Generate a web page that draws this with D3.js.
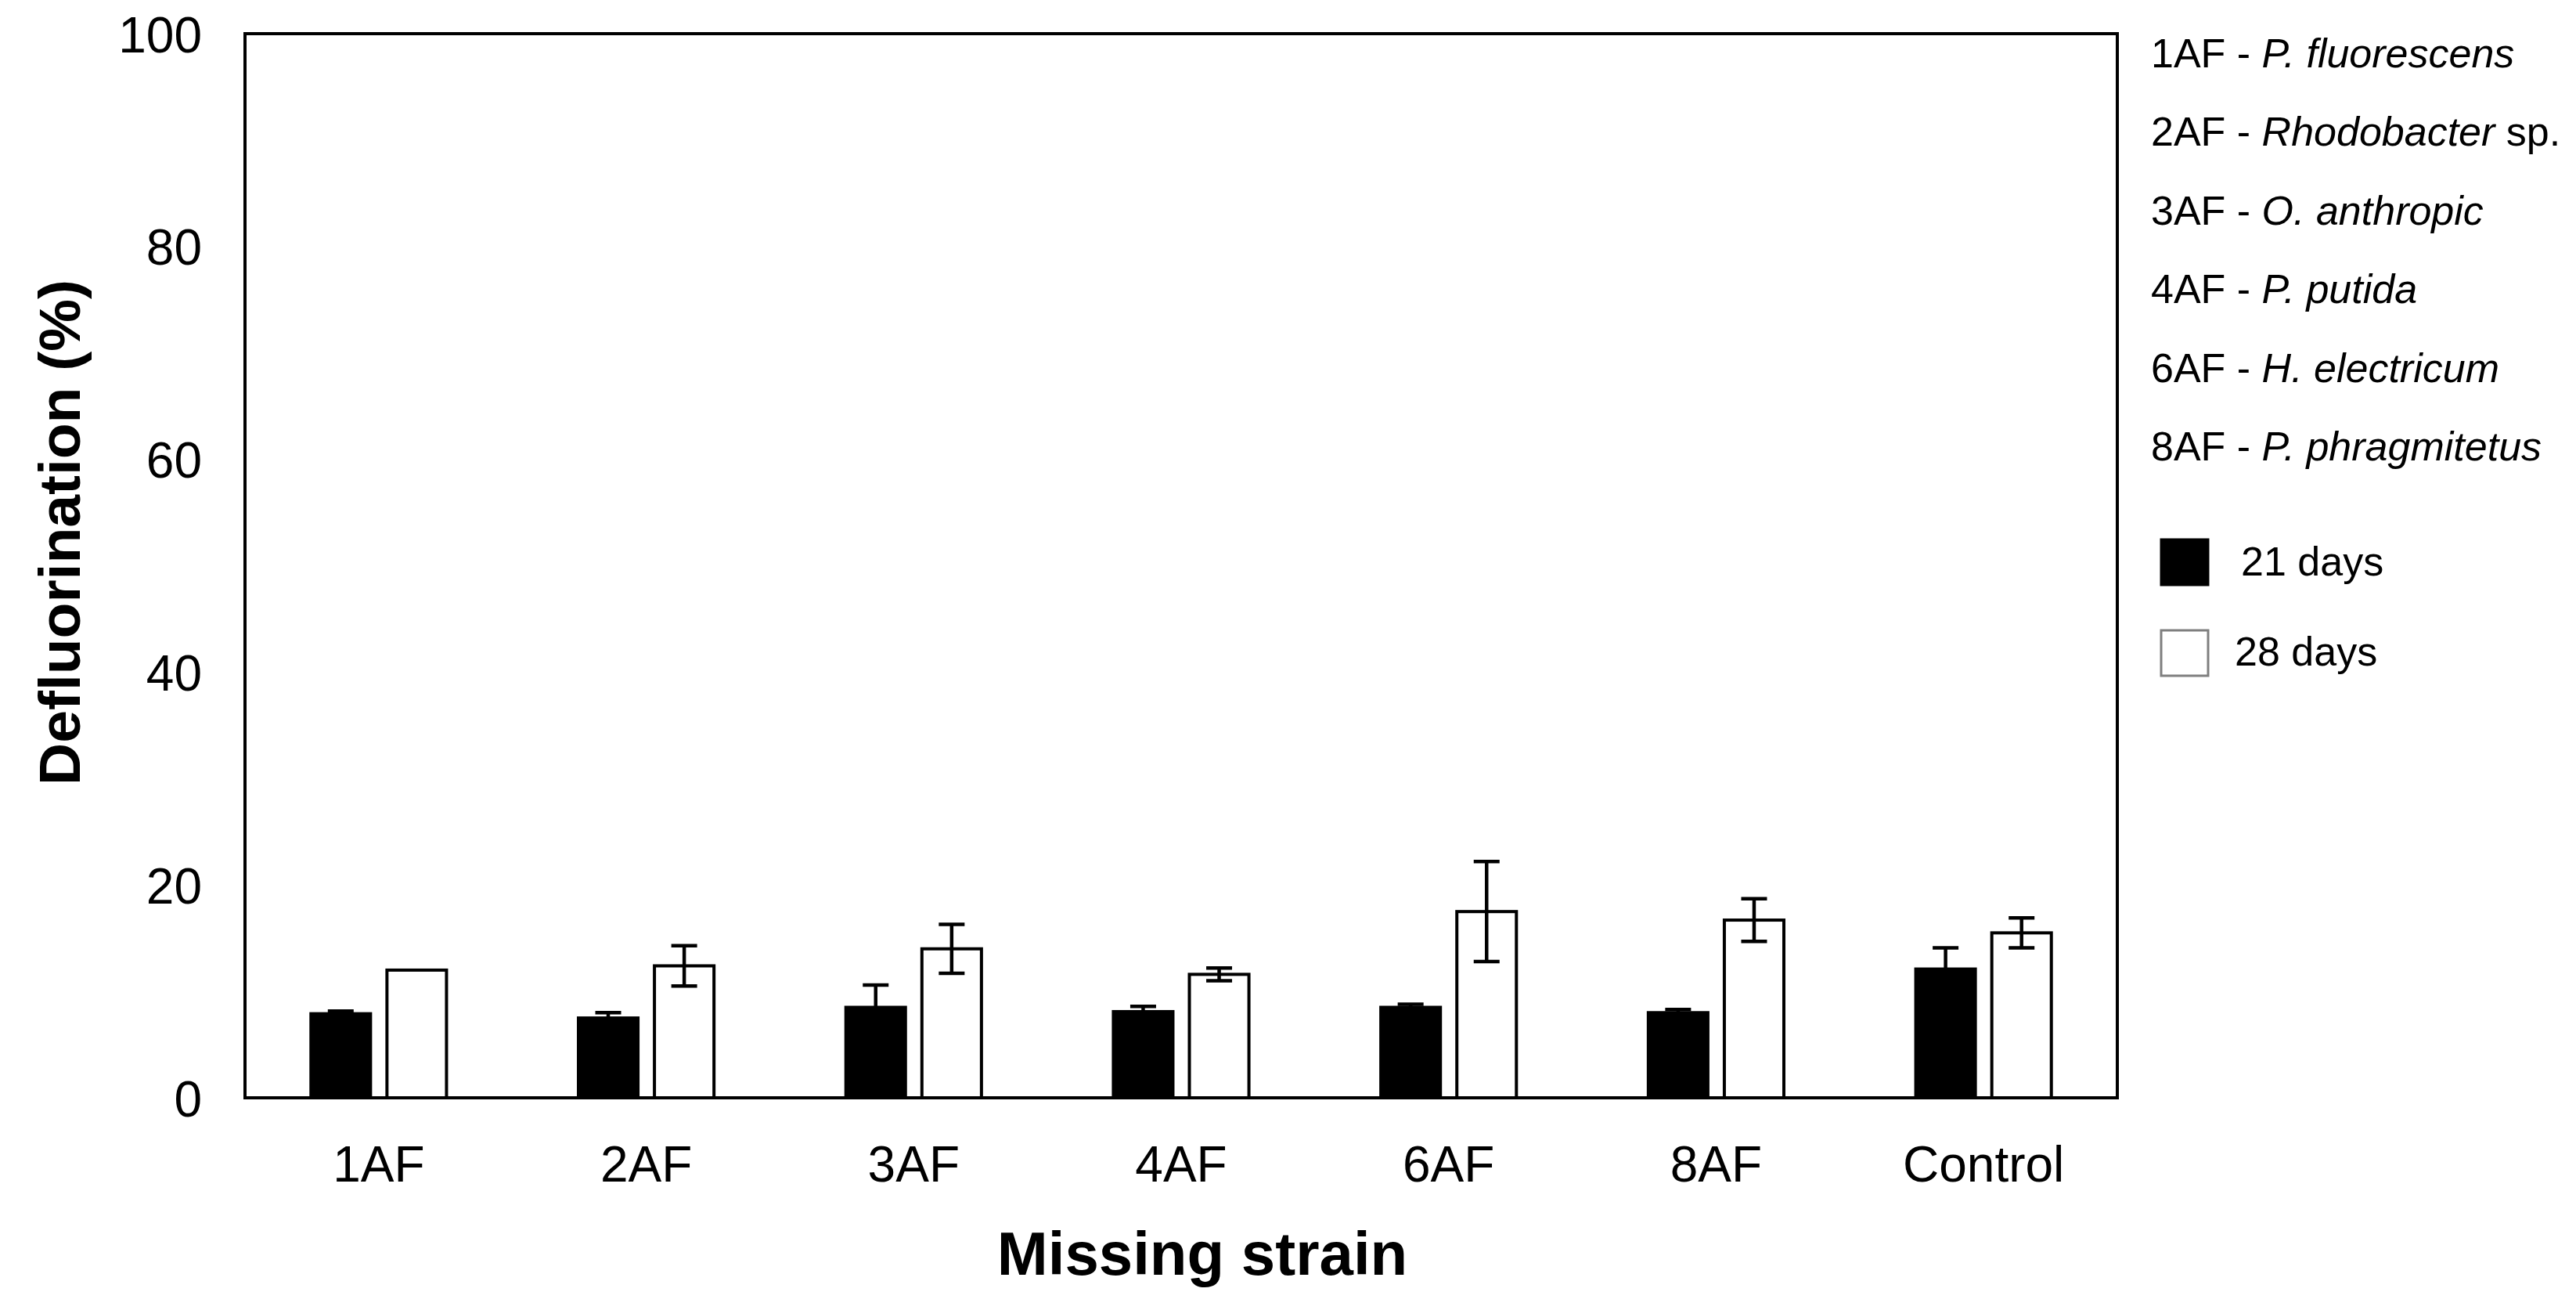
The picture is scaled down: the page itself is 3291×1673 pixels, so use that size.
<!DOCTYPE html>
<html>
<head>
<meta charset="utf-8">
<script src="https://cdn.jsdelivr.net/npm/d3@7"></script>
<style>
  html, body { margin: 0; padding: 0; background: #fff; }
  svg { display: block; font-family: "Liberation Sans", Arial, sans-serif; }
</style>
</head>
<body>
<svg id="chart" width="3291" height="1673"></svg>
<script>
// ---- Data ----
const categories = ["1AF", "2AF", "3AF", "4AF", "6AF", "8AF", "Control"];
const seriesNames = ["21 days", "28 days"];
const days21 = [7.9, 7.5, 8.5, 8.1, 8.5, 8.0, 12.1];
const err21  = [0.25, 0.5, 2.1, 0.5, 0.3, 0.3, 2.0];
const days28 = [12.0, 12.4, 14.0, 11.6, 17.5, 16.7, 15.5];
const err28  = [0, 1.9, 2.3, 0.6, 4.7, 2.0, 1.4];
const yTicks = [0, 20, 40, 60, 80, 100];
const legendCodes = ["1AF", "2AF", "3AF", "4AF", "6AF", "8AF"];
const legendSpecies = ["P. fluorescens", "Rhodobacter", "O. anthropic", "P. putida", "H. electricum", "P. phragmitetus"];
const legendSuffix = ["", " sp.", "", "", "", ""];

// ---- Layout ----
const plot = { left: 313, right: 2705, top: 43, bottom: 1402 };
const svg = d3.select("#chart");
svg.append("rect").attr("width", 3291).attr("height", 1673).attr("fill", "#fff");

const x0 = d3.scaleBand().domain(categories).range([plot.left, plot.right]).padding(0);
const x1 = d3.scaleBand().domain(seriesNames).range([0, x0.bandwidth()])
  .paddingInner(0.2165).paddingOuter(0.868);
const y = d3.scaleLinear().domain([0, 100]).range([plot.bottom, plot.top]);

const data = categories.map((c, i) => ({
  cat: c,
  vals: [
    { s: seriesNames[0], v: days21[i], e: err21[i], fill: "#000" },
    { s: seriesNames[1], v: days28[i], e: err28[i], fill: "#fff" }
  ]
}));

// Bars
const groups = svg.append("g").selectAll("g").data(data).join("g")
  .attr("transform", d => `translate(${x0(d.cat)},0)`);

groups.selectAll("rect").data(d => d.vals).join("rect")
  .attr("x", d => x1(d.s))
  .attr("y", d => y(d.v))
  .attr("width", x1.bandwidth())
  .attr("height", d => y(0) - y(d.v))
  .attr("fill", d => d.fill)
  .attr("stroke", "#000")
  .attr("stroke-width", 4);

// Error bars
const capW = 33;
const eb = groups.selectAll("g.err").data(d => d.vals.filter(v => v.e > 0)).join("g").attr("class", "err")
  .attr("stroke", "#000").attr("stroke-width", 4.5);
eb.append("line")
  .attr("x1", d => x1(d.s) + x1.bandwidth() / 2).attr("x2", d => x1(d.s) + x1.bandwidth() / 2)
  .attr("y1", d => y(d.v + d.e)).attr("y2", d => y(d.v - d.e));
eb.append("line")
  .attr("x1", d => x1(d.s) + x1.bandwidth() / 2 - capW / 2).attr("x2", d => x1(d.s) + x1.bandwidth() / 2 + capW / 2)
  .attr("y1", d => y(d.v + d.e)).attr("y2", d => y(d.v + d.e));
eb.append("line")
  .attr("x1", d => x1(d.s) + x1.bandwidth() / 2 - capW / 2).attr("x2", d => x1(d.s) + x1.bandwidth() / 2 + capW / 2)
  .attr("y1", d => y(d.v - d.e)).attr("y2", d => y(d.v - d.e));

// Frame
svg.append("rect")
  .attr("x", plot.left).attr("y", plot.top)
  .attr("width", plot.right - plot.left).attr("height", plot.bottom - plot.top)
  .attr("fill", "none").attr("stroke", "#000").attr("stroke-width", 4);

// Y axis
const yAxis = svg.append("g").attr("transform", `translate(${plot.left},0)`)
  .call(d3.axisLeft(y).tickValues(yTicks).tickSize(0).tickPadding(55));
yAxis.select(".domain").remove();
yAxis.selectAll("text").attr("font-size", 64).attr("fill", "#000")
  .attr("font-family", "'Liberation Sans', Arial, sans-serif").attr("dy", "0.36em");

// X axis
const xAxis = svg.append("g").attr("transform", `translate(0,${plot.bottom})`)
  .call(d3.axisBottom(x0).tickSize(0).tickPadding(62));
xAxis.select(".domain").remove();
xAxis.selectAll("text").attr("font-size", 64).attr("fill", "#000")
  .attr("font-family", "'Liberation Sans', Arial, sans-serif");

// Axis titles
svg.append("text")
  .attr("x", 1536).attr("y", 1628)
  .attr("text-anchor", "middle").attr("font-size", 78).attr("font-weight", "bold")
  .text("Missing strain");
svg.append("text")
  .attr("transform", "translate(102,680) rotate(-90)")
  .attr("text-anchor", "middle").attr("font-size", 75).attr("font-weight", "bold")
  .text("Defluorination (%)");

// Legend: species key
const leg = svg.append("g");
legendCodes.forEach((c, i) => {
  const t = leg.append("text").attr("x", 2748).attr("y", 86 + i * 100.4).attr("font-size", 52).attr("fill", "#000");
  t.append("tspan").text(c + " - ");
  t.append("tspan").attr("font-style", "italic").text(legendSpecies[i]);
  if (legendSuffix[i]) t.append("tspan").text(legendSuffix[i]);
});

// Legend: series
const legItems = [
  { name: seriesNames[0], fill: "#000", stroke: "#000", y: 689, tx: 2863, ty: 735 },
  { name: seriesNames[1], fill: "#fff", stroke: "#7f7f7f", y: 805, tx: 2855, ty: 850 }
];
legItems.forEach(d => {
  leg.append("rect").attr("x", 2761).attr("y", d.y).attr("width", 60).attr("height", 58)
    .attr("fill", d.fill).attr("stroke", d.stroke).attr("stroke-width", 3);
  leg.append("text").attr("x", d.tx).attr("y", d.ty).attr("font-size", 52).attr("fill", "#000").text(d.name);
});
</script>
</body>
</html>
